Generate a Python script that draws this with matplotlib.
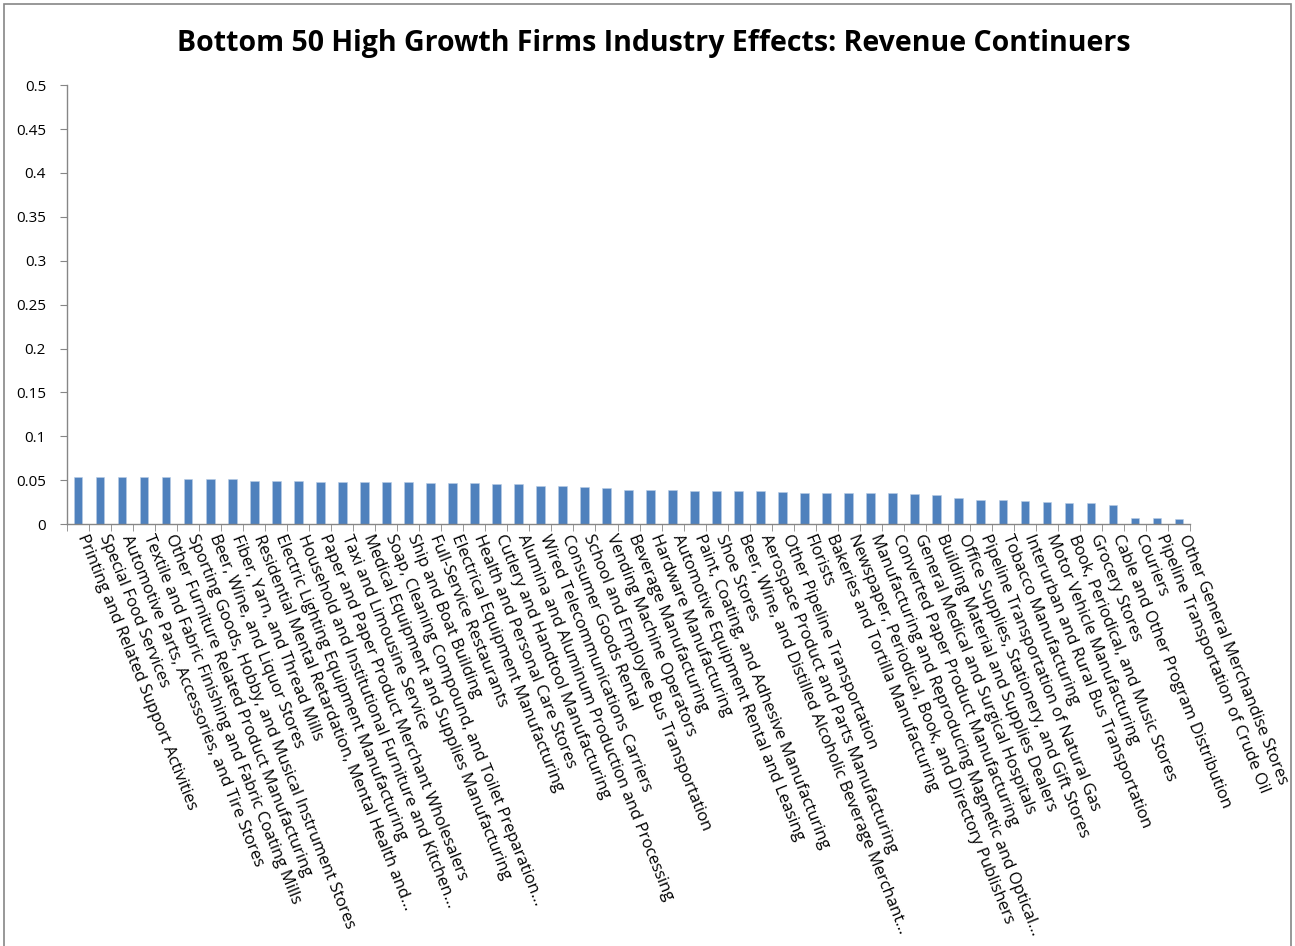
import matplotlib.pyplot as plt
from matplotlib.patches import Rectangle
from matplotlib.transforms import ScaledTranslation

# Industry effects, sorted from largest to smallest
industries = [
    "Printing and Related Support Activities",
    "Special Food Services",
    "Automotive Parts, Accessories, and Tire Stores",
    "Textile and Fabric Finishing and Fabric Coating Mills",
    "Other Furniture Related Product Manufacturing",
    "Sporting Goods, Hobby, and Musical Instrument Stores",
    "Beer, Wine, and Liquor Stores",
    "Fiber, Yarn, and Thread Mills",
    "Residential Mental Retardation, Mental Health and...",
    "Electric Lighting Equipment Manufacturing",
    "Household and Institutional Furniture and Kitchen...",
    "Paper and Paper Product Merchant Wholesalers",
    "Taxi and Limousine Service",
    "Medical Equipment and Supplies Manufacturing",
    "Soap, Cleaning Compound, and Toilet Preparation...",
    "Ship and Boat Building",
    "Full-Service Restaurants",
    "Electrical Equipment Manufacturing",
    "Health and Personal Care Stores",
    "Cutlery and Handtool Manufacturing",
    "Alumina and Aluminum Production and Processing",
    "Wired Telecommunications Carriers",
    "Consumer Goods Rental",
    "School and Employee Bus Transportation",
    "Vending Machine Operators",
    "Beverage Manufacturing",
    "Hardware Manufacturing",
    "Automotive Equipment Rental and Leasing",
    "Paint, Coating, and Adhesive Manufacturing",
    "Shoe Stores",
    "Beer, Wine, and Distilled Alcoholic Beverage Merchant...",
    "Aerospace Product and Parts Manufacturing",
    "Other Pipeline Transportation",
    "Florists",
    "Bakeries and Tortilla Manufacturing",
    "Newspaper, Periodical, Book, and Directory Publishers",
    "Manufacturing and Reproducing Magnetic and Optical...",
    "Converted Paper Product Manufacturing",
    "General Medical and Surgical Hospitals",
    "Building Material and Supplies Dealers",
    "Office Supplies, Stationery, and Gift Stores",
    "Pipeline Transportation of Natural Gas",
    "Tobacco Manufacturing",
    "Interurban and Rural Bus Transportation",
    "Motor Vehicle Manufacturing",
    "Book, Periodical, and Music Stores",
    "Grocery Stores",
    "Cable and Other Program Distribution",
    "Couriers",
    "Pipeline Transportation of Crude Oil",
    "Other General Merchandise Stores",
]

effects = [
    0.0542, 0.0542, 0.0542, 0.0542, 0.0531, 0.0519, 0.0519, 0.0508, 0.0496, 0.0496,
    0.0496, 0.0485, 0.0485, 0.0485, 0.0485, 0.0485, 0.0473, 0.0473, 0.0473, 0.0462,
    0.0454, 0.0438, 0.0438, 0.0423, 0.0412, 0.0392, 0.0392, 0.0392, 0.0381, 0.0381,
    0.0381, 0.0381, 0.0369, 0.0358, 0.0358, 0.0350, 0.0350, 0.0350, 0.0342, 0.0331,
    0.0296, 0.0277, 0.0277, 0.0265, 0.0254, 0.0242, 0.0242, 0.0215, 0.0065, 0.0065,
    0.0054,
]

y_ticks = [0, 0.05, 0.1, 0.15, 0.2, 0.25, 0.3, 0.35, 0.4, 0.45, 0.5]
y_tick_labels = ["0", "0.05", "0.1", "0.15", "0.2", "0.25", "0.3", "0.35", "0.4", "0.45", "0.5"]

plt.rcParams['font.family'] = ['Open Sans', 'DejaVu Sans']

fig = plt.figure(figsize=(12.95, 9.46), dpi=100)
ax = fig.add_axes([0.0517, 0.446, 0.8673, 0.464])

x = list(range(len(industries)))
ax.bar(x, effects, width=0.4, color='#4F81BD', edgecolor='#B9CDE5', linewidth=0.4)

ax.set_xlim(-0.5, len(industries) - 0.5)
ax.set_ylim(0, 0.5)
ax.set_yticks(y_ticks)
ax.set_yticklabels(y_tick_labels, fontsize=11)
ax.tick_params(axis='y', direction='out', length=5, color='#868686', pad=10)

# category labels centred on bars, tick marks between categories
ax.set_xticks(x)
ax.set_xticklabels(industries, rotation=-68, ha='left', va='top', fontsize=12)
ax.tick_params(axis='x', which='major', length=0, pad=6)
shift = ScaledTranslation(-4 / 100, 0, fig.dpi_scale_trans)
for lbl in ax.get_xticklabels():
    lbl.set_transform(lbl.get_transform() + shift)
ax.set_xticks([i + 0.5 for i in range(-1, len(industries))], minor=True)
ax.tick_params(axis='x', which='minor', direction='out', length=5, color='#868686')

for side in ['top', 'right']:
    ax.spines[side].set_visible(False)
for side in ['left', 'bottom']:
    ax.spines[side].set_color('#868686')
    ax.spines[side].set_linewidth(1)

fig.text(0.505, 0.9535, "Bottom 50 High Growth Firms Industry Effects: Revenue Continuers",
         ha='center', va='center', fontsize=20.5, fontweight='bold')

# chart area border
fig.patches.append(Rectangle((0.003, -0.01), 0.994, 1.006, transform=fig.transFigure,
                             fill=False, edgecolor='#868686', linewidth=1.2))

fig.savefig('out.png', dpi=100)
